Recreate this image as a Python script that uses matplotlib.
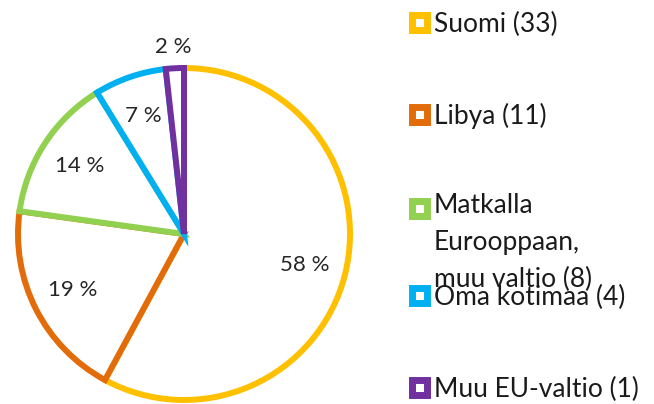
import matplotlib.pyplot as plt
from matplotlib.lines import Line2D

labels = ['Suomi (33)', 'Libya (11)', 'Matkalla\nEurooppaan,\nmuu valtio (8)',
          'Oma kotimaa (4)', 'Muu EU-valtio (1)']
values = [33, 11, 8, 4, 1]
colors = ['#FFC000', '#E36C0A', '#92D050', '#00B0F0', '#7030A0']

plt.rcParams['font.family'] = ['Lato', 'DejaVu Sans']

W, H = 654, 404
fig = plt.figure(figsize=(W / 100, H / 100), dpi=100)

# pie: centre ~ (184, 234) px, radius ~ 166 px
cx, cy, r = 184, 234, 166
ax = fig.add_axes([(cx - r) / W, (H - cy - r) / H, 2 * r / W, 2 * r / H])

wedges, texts, autotexts = ax.pie(
    values, colors=['white'] * len(values), startangle=90, counterclock=False,
    autopct=lambda p: f'{p:.0f} %', pctdistance=0.75,
    wedgeprops=dict(linewidth=4.3, joinstyle='miter'),
    textprops=dict(fontsize=16, color='#262626'))
for w, c in zip(wedges, colors):
    w.set_edgecolor(c)
# the tiny slice gets its label outside the rim
x, y = autotexts[-1].get_position()
autotexts[-1].set_position((x * 1.13 / 0.75, y * 1.13 / 0.75))
ax.set_xlim(-1, 1)
ax.set_ylim(-1, 1)

# legend on the right
leg_y = [22, 114, 208, 295, 387]
for lab, c, yy in zip(labels, colors, leg_y):
    fy = 1 - yy / H
    fig.add_artist(Line2D([419 / W], [fy], marker='s', markersize=10.8,
                          markeredgewidth=5, markerfacecolor='white',
                          markeredgecolor=c, transform=fig.transFigure))
    # baseline alignment uses the last line, so push multi-line labels down
    base = yy + 10 + 34.5 * lab.count('\n')
    fig.text(434 / W, 1 - base / H, lab, fontsize=19, color='#1a1a1a',
             va='baseline', ha='left', linespacing=1.6)

fig.savefig('out.png', dpi=100)
